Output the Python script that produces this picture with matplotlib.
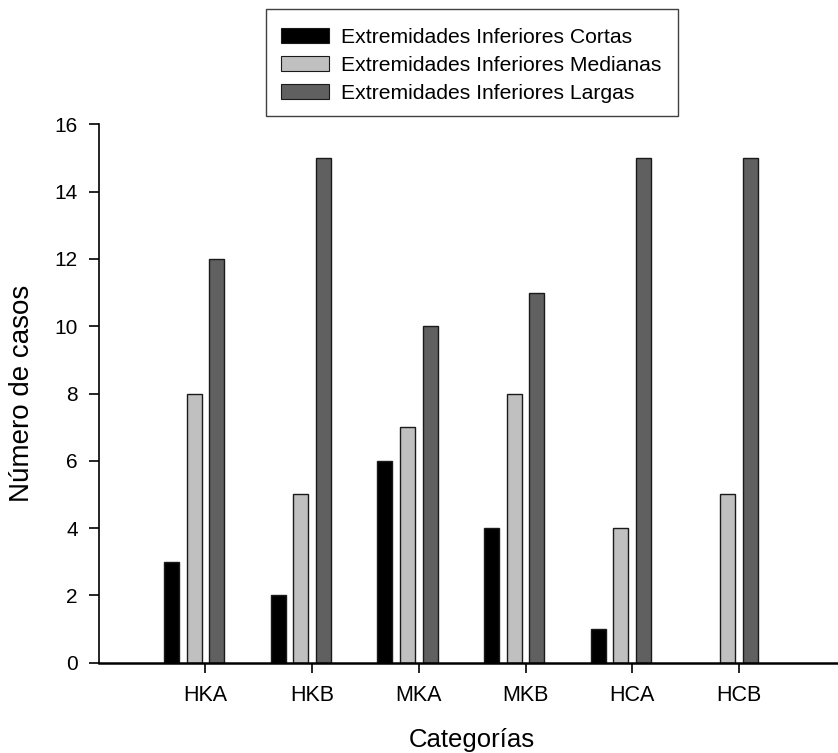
import matplotlib
matplotlib.use("Agg")
import matplotlib.pyplot as plt
from matplotlib.patches import Rectangle, Patch
import numpy as np

plt.rcParams['font.family'] = ['Liberation Sans', 'DejaVu Sans']

categories = ["HKA", "HKB", "MKA", "MKB", "HCA", "HCB"]
cortas = [3, 2, 6, 4, 1, 0]
medianas = [8, 5, 7, 8, 4, 5]
largas = [12, 15, 10, 11, 15, 15]
series_names = ["Extremidades Inferiores Cortas",
                "Extremidades Inferiores Medianas",
                "Extremidades Inferiores Largas"]
colors = ["#000000", "#c0c0c0", "#606060"]

W, H = 838, 753
fig = plt.figure(figsize=(W / 100, H / 100), dpi=100)
ax = fig.add_axes([98.7 / W, 90.3 / H, 747 / W, 538.4 / H])

x = np.arange(1, len(categories) + 1)
pitch = 0.2125
width = 0.14
offsets = [-1.5 * pitch, -0.5 * pitch, 0.5 * pitch]
for vals, off, c in zip([cortas, medianas, largas], offsets, colors):
    mask = np.array(vals) > 0
    ax.bar(x[mask] + off, np.array(vals)[mask], width=width, color=c,
           edgecolor="#1a1a1a", linewidth=1.0, zorder=2)

ax.set_xlim(0, 7)
ax.set_ylim(0, 16)
ax.set_yticks(np.arange(0, 17, 2))
ax.set_xticks(x)
ax.set_xticklabels(categories)
for s in ["top", "right"]:
    ax.spines[s].set_visible(False)
ax.spines["left"].set_linewidth(1.2)
ax.spines["bottom"].set_linewidth(1.8)
ax.tick_params(axis="y", direction="out", length=7, width=1.2, pad=8, labelsize=15)
ax.tick_params(axis="x", direction="out", length=7, width=1.2, pad=9, labelsize=15.5)

ax.set_ylabel("Número de casos", fontsize=20, labelpad=14)
ax.set_xlabel("Categorías", fontsize=18.5, labelpad=16)

handles = [Patch(facecolor=c, edgecolor="#1a1a1a", linewidth=0.8) for c in colors]
fig.legend(handles, series_names, loc="upper left",
           bbox_to_anchor=(280.7 / W, 1 - 28 / H), frameon=False,
           fontsize=15.2, handlelength=2.3, handleheight=0.75,
           handletextpad=0.55, labelspacing=0.42, borderaxespad=0, borderpad=0)
fig.patches.append(Rectangle((266 / W, 1 - 116 / H), 412 / W, 107 / H,
                             transform=fig.transFigure, fill=False,
                             edgecolor="#404040", linewidth=1.0))

fig.savefig("out.png", dpi=100)
